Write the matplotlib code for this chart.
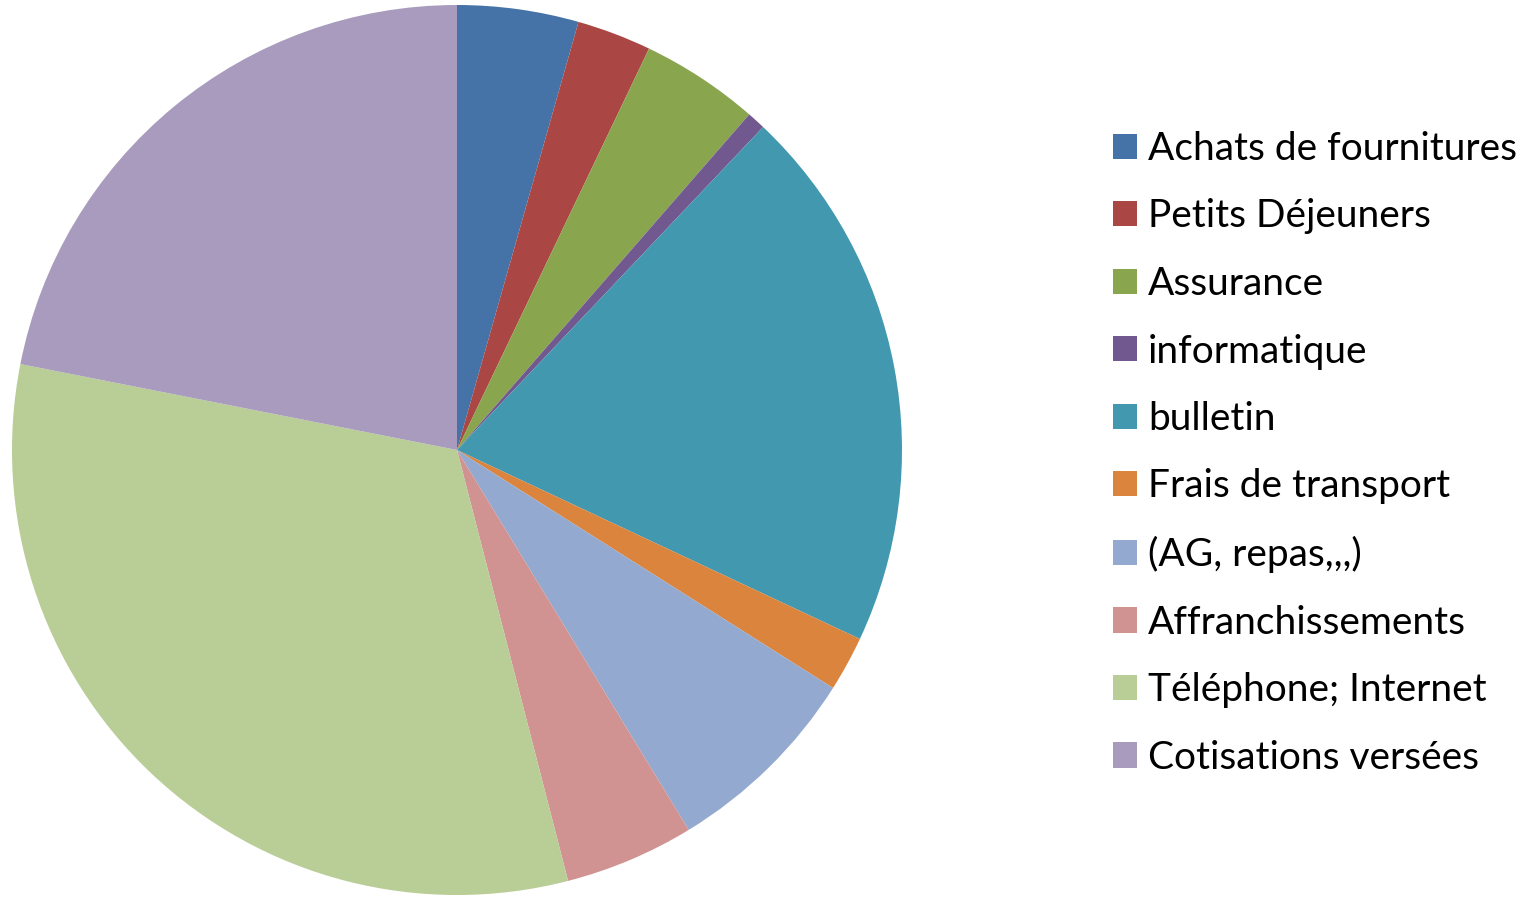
import matplotlib
matplotlib.use('Agg')
from matplotlib import pyplot as plt

plt.rcParams['font.family'] = ['Lato', 'DejaVu Sans']

labels = ['Achats de fournitures', 'Petits Déjeuners', 'Assurance', 'informatique',
          'bulletin', 'Frais de transport', '(AG, repas,,,)', 'Affranchissements',
          'Téléphone; Internet', 'Cotisations versées']
values = [4.4, 2.7, 4.3, 0.67, 19.9, 2.0, 7.3, 4.7, 32.1, 21.9]
colors = ['#4572A7', '#AA4643', '#89A54E', '#71588F', '#4198AF',
          '#DB843D', '#93A9CF', '#D19392', '#B9CD96', '#A99BBD']

fig = plt.figure(figsize=(15.38, 9), dpi=100)
ax = fig.add_axes([12/1538, 5/900, 890/1538, 890/900])
wedges, _ = ax.pie(values, colors=colors, startangle=90, counterclock=False,
                   radius=1, wedgeprops={'linewidth': 0})
ax.set_aspect('equal')
ax.set_xlim(-1, 1)
ax.set_ylim(-1, 1)

fig.legend(wedges, labels, loc='upper left', bbox_to_anchor=(1113/1538, 1 - 131/900),
           frameon=False, fontsize=28, handlelength=0.62, handleheight=0.62,
           handletextpad=0.28, labelspacing=0.81, borderaxespad=0, borderpad=0)

fig.savefig('out.png', dpi=100)
